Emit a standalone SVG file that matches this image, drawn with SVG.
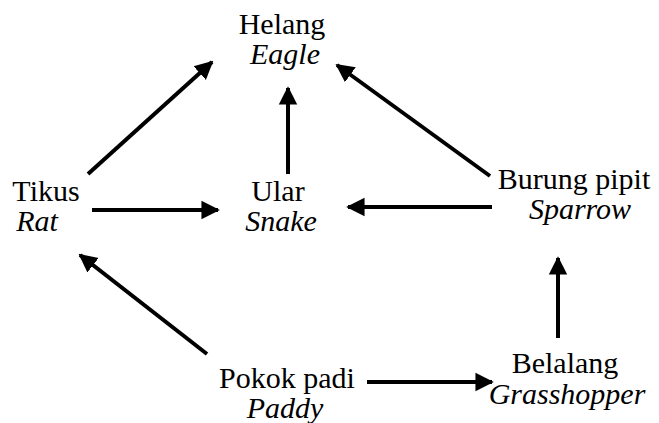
<svg xmlns="http://www.w3.org/2000/svg" width="659" height="423" viewBox="0 0 659 423">
<style>
.t{font-family:'Liberation Serif',serif;font-size:30px;fill:#000;text-anchor:middle}
.t.it{font-style:italic}
.c{stroke:#000;stroke-width:4;fill:none;marker-end:url(#ah)}
</style>
<defs>
<marker id="ah" viewBox="0 0 10 10" refX="9" refY="5" markerWidth="4.6" markerHeight="5" markerUnits="strokeWidth" orient="auto">
<path d="M0,0 L10,5 L0,10 z" fill="#000"/>
</marker>
</defs>
<rect width="659" height="423" fill="#fff"/>
<g id="helang"><text class="t" x="282" y="34">Helang</text><text class="t it" x="285" y="64">Eagle</text></g>
<g id="tikus"><text class="t" x="46" y="201">Tikus</text><text class="t it" x="37" y="231">Rat</text></g>
<g id="ular"><text class="t" x="278" y="201">Ular</text><text class="t it" x="281" y="231">Snake</text></g>
<g id="burung"><text class="t" x="574" y="189">Burung pipit</text><text class="t it" x="580" y="219">Sparrow</text></g>
<g id="padi"><text class="t" x="287" y="388">Pokok padi</text><text class="t it" x="285" y="418">Paddy</text></g>
<g id="belalang"><text class="t" x="565" y="373">Belalang</text><text class="t it" x="567" y="404">Grasshopper</text></g>
<g id="connectors">
<line class="c" x1="88" y1="174" x2="212" y2="62"/>
<line class="c" x1="288" y1="174" x2="288" y2="88"/>
<line class="c" x1="490" y1="176" x2="337" y2="65"/>
<line class="c" x1="92" y1="210" x2="218" y2="210"/>
<line class="c" x1="492" y1="207" x2="348" y2="207"/>
<line class="c" x1="207" y1="354" x2="80" y2="255"/>
<line class="c" x1="367" y1="382" x2="492" y2="382"/>
<line class="c" x1="558" y1="338" x2="558" y2="258"/>
</g>
</svg>
